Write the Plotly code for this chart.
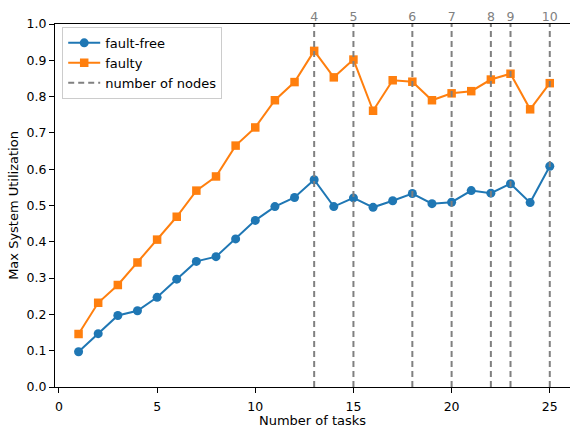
import plotly.graph_objects as go

tasks = list(range(1, 26))
fault_free = [0.097, 0.147, 0.197, 0.21, 0.247, 0.297, 0.346, 0.359, 0.408, 0.459,
              0.497, 0.522, 0.571, 0.497, 0.521, 0.495, 0.513, 0.533, 0.505, 0.509,
              0.541, 0.534, 0.56, 0.508, 0.608]
faulty = [0.146, 0.232, 0.281, 0.343, 0.406, 0.469, 0.541, 0.58, 0.665, 0.715,
          0.79, 0.84, 0.926, 0.853, 0.902, 0.761, 0.845, 0.841, 0.79, 0.809,
          0.815, 0.847, 0.863, 0.765, 0.837]
node_positions = [13, 15, 18, 20, 22, 23, 25]
node_labels = ["4", "5", "6", "7", "8", "9", "10"]
y_min, y_max = 0.0, 1.0

BLUE = "#1f77b4"
ORANGE = "#ff7f0e"
GRAY = "#808080"
FONT = "DejaVu Sans"

vx, vy = [], []
for p in node_positions:
    vx += [p, p, None]
    vy += [y_min, y_max, None]

fig = go.Figure()
fig.add_trace(go.Scatter(x=tasks, y=fault_free, mode="lines+markers", name="fault-free",
                         line=dict(color=BLUE, width=2),
                         marker=dict(symbol="circle", size=9, color=BLUE)))
fig.add_trace(go.Scatter(x=tasks, y=faulty, mode="lines+markers", name="faulty",
                         line=dict(color=ORANGE, width=2),
                         marker=dict(symbol="square", size=8.5, color=ORANGE)))
fig.add_trace(go.Scatter(x=vx, y=vy, mode="lines", name="number of nodes",
                         xaxis="x2",
                         line=dict(color=GRAY, width=2, dash="6px,4px")))

xr = [-0.2, 26.03]
fig.update_layout(
    width=570, height=428,
    margin=dict(l=55, r=0, t=24, b=41),
    paper_bgcolor="white", plot_bgcolor="white",
    font=dict(family=FONT, size=12.5, color="black"),
    showlegend=True,
    legend=dict(x=0.014, y=0.992, xanchor="left", yanchor="top",
                bgcolor="rgba(255,255,255,0.8)", bordercolor="#cccccc", borderwidth=1,
                font=dict(size=13), itemwidth=32, tracegroupgap=0),
    xaxis=dict(range=xr, tickvals=[0, 5, 10, 15, 20, 25], showgrid=False, zeroline=False,
               showline=True, linecolor="black", linewidth=1, mirror=True,
               ticks="outside", ticklen=5, tickcolor="black", ticklabelstandoff=3,
               tickfont=dict(size=12.5),
               title=dict(text="Number of tasks", font=dict(size=13), standoff=4)),
    xaxis2=dict(range=xr, overlaying="x", side="top", tickvals=node_positions,
                ticktext=node_labels, showgrid=False, zeroline=False, showline=False,
                ticks="", ticklabelstandoff=0,
                tickfont=dict(color=GRAY, size=12.5)),
    yaxis=dict(range=[y_min, y_max], tickvals=[i / 10 for i in range(11)],
               tickformat=".1f", showgrid=False, zeroline=False,
               showline=True, linecolor="black", linewidth=1, mirror=True,
               ticks="outside", ticklen=5, tickcolor="black",
               tickfont=dict(size=12.5),
               title=dict(text="Max System Utilization", font=dict(size=13), standoff=5)),
)

fig.write_html("out.html")
